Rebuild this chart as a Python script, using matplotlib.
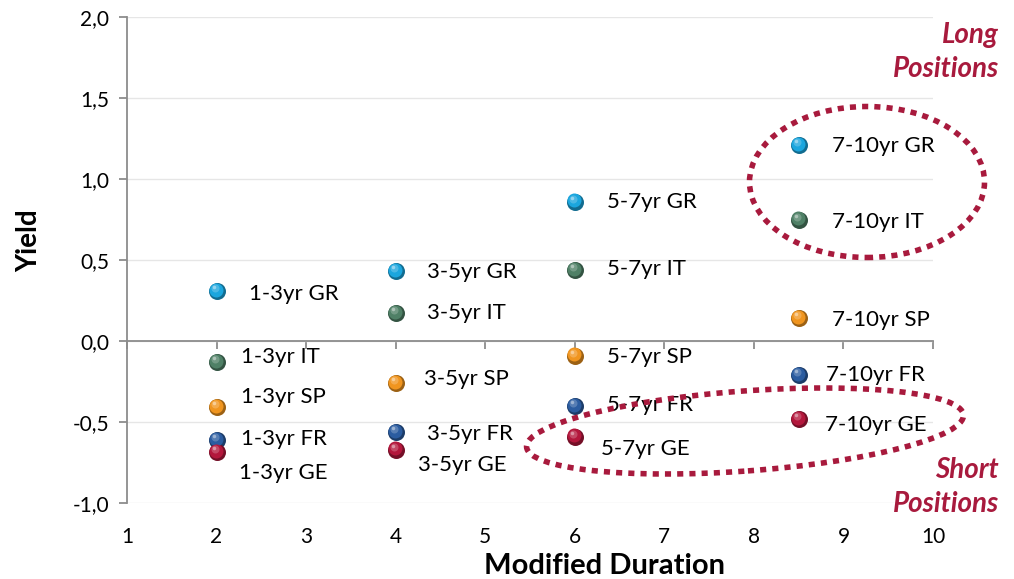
import matplotlib
matplotlib.use("Agg")
import matplotlib.pyplot as plt
import matplotlib.transforms as mtransforms
from matplotlib.patches import Ellipse
import numpy as np
from matplotlib.colors import to_rgb

# ---- data ----
durations = [2, 4, 6, 8.5]
maturities = ["1-3yr", "3-5yr", "5-7yr", "7-10yr"]
countries = ["GR", "IT", "SP", "FR", "GE"]
yield_GR = [0.31, 0.43, 0.86, 1.21]
yield_IT = [-0.13, 0.17, 0.44, 0.75]
yield_SP = [-0.41, -0.26, -0.09, 0.14]
yield_FR = [-0.61, -0.56, -0.40, -0.21]
yield_GE = [-0.685, -0.67, -0.59, -0.48]
x_ticks = [1, 2, 3, 4, 5, 6, 7, 8, 9, 10]
y_ticks = [-1.0, -0.5, 0.0, 0.5, 1.0, 1.5, 2.0]

series = {"GR": yield_GR, "IT": yield_IT, "SP": yield_SP, "FR": yield_FR, "GE": yield_GE}
colors = {"GR": "#1BA6DE", "IT": "#4F8066", "SP": "#F0951F", "FR": "#2B5CA0", "GE": "#B3173C"}

# label offsets in pixels (dx right, dy down) per country per maturity
label_off = {
    "GR": [(32, 3), (31, 1), (32, 0), (33, 1)],
    "IT": [(24, -5), (31, 0), (32, -1), (33, 3)],
    "SP": [(24, -10), (28, -4), (32, 1), (33, 2)],
    "FR": [(24, -1), (31, 2), (32, -1), (27, 0)],
    "GE": [(22, 21), (22, 15), (26, 12), (26, 6)],
}

W, H, DPI = 1014, 579, 100
fig = plt.figure(figsize=(W / DPI, H / DPI), dpi=DPI)
ax = fig.add_axes([127 / W, 1 - 503 / H, (933 - 127) / W, (503 - 17) / H])
ax.set_xlim(1, 10)
ax.set_ylim(-1, 2)

font = "Lato"
red = "#A81A3D"

# grid
ax.set_yticks(y_ticks)
ax.set_yticklabels([f"{v:.1f}".replace(".", ",") for v in y_ticks], fontsize=15, family=font)
ax.yaxis.grid(True, color="#E6E6E6", linewidth=1)
ax.set_axisbelow(True)
for s in ["top", "right"]:
    ax.spines[s].set_visible(False)
ax.spines["left"].set_color("#8C8C8C")
ax.spines["left"].set_linewidth(1.3)
ax.spines["bottom"].set_position(("data", 0))
ax.spines["bottom"].set_color("#8C8C8C")
ax.spines["bottom"].set_linewidth(1.3)
ax.tick_params(axis="y", length=6, color="#8C8C8C", width=1.3, pad=7)
ax.set_xticks(x_ticks)
ax.tick_params(axis="x", length=6, color="#8C8C8C", width=1.3, labelbottom=False)

sec = ax.secondary_xaxis(0.0)
sec.set_xticks(x_ticks)
sec.set_xticklabels([str(v) for v in x_ticks], fontsize=15, family=font)
sec.tick_params(axis="x", length=0, pad=17)
sec.spines["bottom"].set_visible(False)

ax.set_ylabel("Yield", fontsize=20, fontweight="bold", family=font)
ax.yaxis.set_label_coords(-0.105, 0.54)
ax.text(0.593, -0.13, "Modified Duration", transform=ax.transAxes, ha="center", va="center",
        fontsize=21, fontweight="bold", family=font)

def mix(c, t, target):
    c = np.array(to_rgb(c)); target = np.array(to_rgb(target))
    return tuple(c * (1 - t) + target * t)

def pt(px):
    return px * 72 / DPI

for c in countries:
    vals = series[c]
    base = colors[c]
    ax.plot(durations, vals, "o", ms=pt(17), color=mix(base, 0.35, "black"), mec="none", zorder=3)
    t1 = mtransforms.offset_copy(ax.transData, fig=fig, x=-0.8, y=1.2, units="dots")
    ax.plot(durations, vals, "o", ms=pt(14), color=base, mec="none", zorder=4, transform=t1)
    t2 = mtransforms.offset_copy(ax.transData, fig=fig, x=-2.0, y=3.0, units="dots")
    ax.plot(durations, vals, "o", ms=pt(8), color=mix(base, 0.25, "white"), mec="none", zorder=5,
            transform=t2, alpha=0.85)
    t3 = mtransforms.offset_copy(ax.transData, fig=fig, x=-2.5, y=4.0, units="dots")
    ax.plot(durations, vals, "o", ms=pt(3.5), color=mix(base, 0.6, "white"), mec="none", zorder=6,
            transform=t3, alpha=0.85)
    for i, (xv, yv) in enumerate(zip(durations, vals)):
        dx, dy = label_off[c][i]
        ax.annotate(f"{maturities[i]} {c}", (xv, yv), xytext=(dx, -dy), textcoords="offset pixels",
                    ha="left", va="center", fontsize=16, family=font, color="black", zorder=7)

# ellipses (drawn in inch space so they are true ellipses)
tr = fig.dpi_scale_trans
e1 = Ellipse((867 / DPI, (H - 182) / DPI), 2.35, 1.51, angle=0, transform=tr, fill=False,
             edgecolor=red, linewidth=4, linestyle=(0, (1.1, 1.1)), zorder=8)
e2 = Ellipse((745 / DPI, (H - 431) / DPI), 4.38, 0.80, angle=4.2, transform=tr, fill=False,
             edgecolor=red, linewidth=4, linestyle=(0, (1.1, 1.1)), zorder=8)
fig.add_artist(e1)
fig.add_artist(e2)

for txt, ypix in [("Long", 35), ("Positions", 69), ("Short", 470), ("Positions", 504)]:
    fig.text(999 / W, 1 - ypix / H, txt, ha="right", va="center", fontsize=20, fontweight="bold",
             fontstyle="italic", color=red, family=font)

fig.savefig("out.png", dpi=DPI)
